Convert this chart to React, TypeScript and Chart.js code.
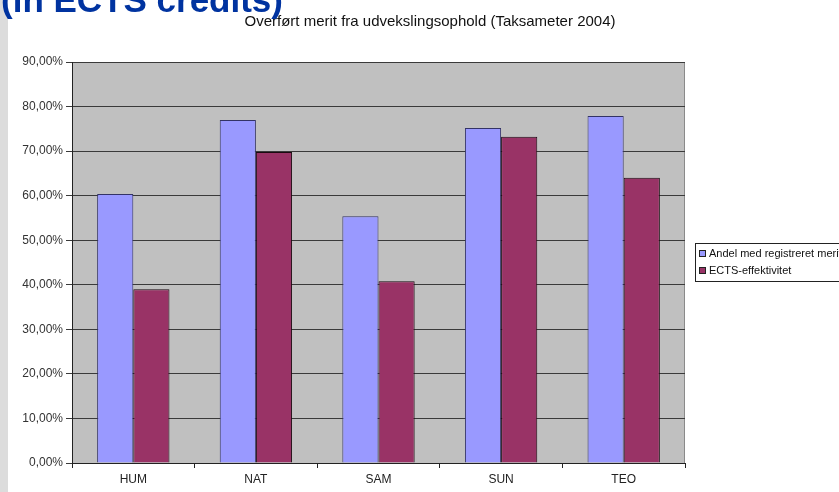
import React, { useEffect, useRef } from "react";
import { Chart, registerables } from "chart.js";

Chart.register(...registerables);

const categories = ["HUM", "NAT", "SAM", "SUN", "TEO"];
const seriesNames = ["Andel med registreret merit", "ECTS-effektivitet"];
const andelValues = [60.4, 77.0, 55.4, 75.2, 77.9];
const ectsValues = [39.0, 69.8, 40.8, 73.2, 64.0];
const seriesColors = ["#9999ff", "#993366"];
const seriesBorders = ["#333366", "#1a0a10"];
const chartTitle = "Overført merit fra udvekslingsophold (Taksameter 2004)";
const heading = "(in ECTS credits)";

const FONT = "'Liberation Sans', Arial, sans-serif";

const plotBg = {
  id: "plotBg",
  beforeDraw(chart: any) {
    const { ctx, chartArea: a } = chart;
    ctx.save();
    ctx.fillStyle = "#c0c0c0";
    ctx.fillRect(a.left, a.top, a.right - a.left, a.bottom - a.top);
    ctx.strokeStyle = "#8a8a8a";
    ctx.lineWidth = 1;
    ctx.strokeRect(a.left + 0.5, a.top + 0.5, a.right - a.left - 1, a.bottom - a.top);
    ctx.restore();
  },
  afterDraw(chart: any) {
    const { ctx } = chart;
    ctx.save();
    // title
    ctx.fillStyle = "#111";
    ctx.font = `15px ${FONT}`;
    ctx.textAlign = "center";
    ctx.textBaseline = "alphabetic";
    ctx.fillText(chartTitle, 430, 26);
    // legend
    const lx = 695, ly = 243, lh = 38;
    ctx.strokeStyle = "#222";
    ctx.lineWidth = 1;
    ctx.strokeRect(lx + 0.5, ly + 0.5, 200, lh);
    ctx.font = `11px ${FONT}`;
    ctx.textAlign = "left";
    ctx.textBaseline = "middle";
    chart.data.datasets.forEach((ds: any, i: number) => {
      const y = ly + 10 + i * 17;
      ctx.fillStyle = ds.backgroundColor;
      ctx.fillRect(lx + 4, y - 3, 6, 6);
      ctx.strokeStyle = "#222";
      ctx.strokeRect(lx + 4.5, y - 2.5, 6, 6);
      ctx.fillStyle = "#111";
      ctx.fillText(ds.label, lx + 14, y + 1);
    });
    ctx.restore();
  },
};

export default function App() {
  const ref = useRef<HTMLCanvasElement | null>(null);
  useEffect(() => {
    if (!ref.current) return;
    const chart = new Chart(ref.current, {
      type: "bar",
      data: {
        labels: categories,
        datasets: [
          {
            label: seriesNames[0],
            data: andelValues,
            backgroundColor: seriesColors[0],
            borderColor: seriesBorders[0],
            borderWidth: 1,
            borderSkipped: "bottom",
          },
          {
            label: seriesNames[1],
            data: ectsValues,
            backgroundColor: seriesColors[1],
            borderColor: seriesBorders[1],
            borderWidth: 1,
            borderSkipped: "bottom",
          },
        ],
      },
      options: {
        animation: false,
        responsive: false,
        maintainAspectRatio: false,
        layout: { padding: { left: 0, right: 154, top: 62, bottom: 0 } },
        plugins: {
          legend: { display: false },
          title: { display: false },
          tooltip: { enabled: false },
        },
        datasets: { bar: { barPercentage: 1, categoryPercentage: 0.59 } },
        scales: {
          x: {
            offset: true,
            grid: {
              offset: true,
              drawOnChartArea: false,
              drawTicks: true,
              tickLength: 5,
              color: "#222",
            },
            border: { display: true, color: "#222" },
            ticks: { font: { family: FONT, size: 12 }, color: "#222", padding: 4 },
            afterFit(s: any) {
              s.height = 29;
            },
          },
          y: {
            min: 0,
            max: 90,
            ticks: {
              stepSize: 10,
              font: { family: FONT, size: 12 },
              color: "#333",
              padding: 3,
              callback: (v: any) => Number(v).toFixed(2).replace(".", ",") + "%",
            },
            grid: { color: "#3a3a3a", lineWidth: 1, tickLength: 6, drawTicks: true },
            border: { display: true, color: "#222" },
            afterFit(s: any) {
              s.width = 72;
            },
          },
        },
      },
      plugins: [plotBg],
    });
    return () => chart.destroy();
  }, []);
  return (
    <div
      style={{
        position: "fixed",
        left: 0,
        top: 0,
        width: 839,
        height: 492,
        background: "#fff",
        overflow: "hidden",
      }}
    >
      <canvas ref={ref} width={839} height={492} style={{ position: "absolute", left: 0, top: 0 }} />
      <div
        style={{
          position: "absolute",
          left: 0,
          top: 0,
          width: 8,
          height: 492,
          background: "#dcdcdc",
        }}
      />
      <div
        style={{
          position: "absolute",
          left: 1,
          top: -18,
          fontFamily: FONT,
          fontWeight: "bold",
          fontSize: 35,
          lineHeight: "35px",
          color: "#0033a0",
          whiteSpace: "nowrap",
        }}
      >
        {heading}
      </div>
    </div>
  );
}
